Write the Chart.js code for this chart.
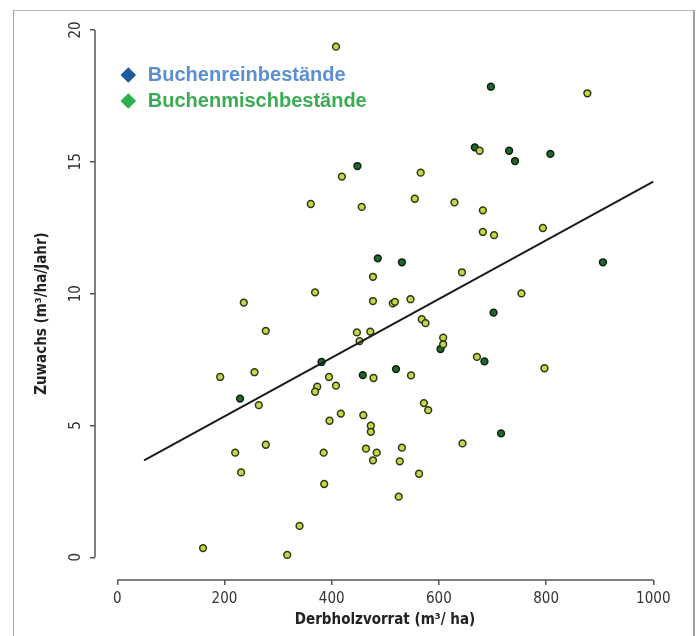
<!DOCTYPE html>
<html><head><meta charset="utf-8">
<script src="https://cdn.jsdelivr.net/npm/chart.js@4.4.1/dist/chart.umd.min.js"></script>
<style>
html,body{margin:0;padding:0;background:#fff;}
#wrap{position:relative;width:697px;height:636px;overflow:hidden;}
#frame{position:absolute;left:13px;top:10px;width:679px;height:640px;border-left:1px solid #a8a8a8;border-top:1px solid #b8b8b8;border-right:2px solid #a0a0a0;}
canvas{position:absolute;left:0;top:0;}
</style></head><body>
<div id="wrap"><div id="frame"></div><canvas id="c" width="697" height="636"></canvas></div>
<script>
// Data (Derbholzvorrat m³/ha, Zuwachs m³/ha/Jahr)
const reinX = [697, 667, 731, 742, 808, 448, 486, 531, 702, 603, 685, 520, 458, 716, 906, 381, 229];
const reinY = [17.85, 15.55, 15.42, 15.03, 15.30, 14.84, 11.34, 11.19, 9.28, 7.90, 7.43, 7.14, 6.91, 4.70, 11.19, 7.41, 6.02];
const mischX = [408, 877, 676, 419, 566, 555, 629, 456, 361, 682, 682, 703, 794, 477, 643, 754, 477, 514, 518, 547,
  568, 575, 472, 608, 608, 671, 797, 478, 548, 572, 580, 459, 473, 473, 464, 484, 531, 477, 527, 644,
  563, 525, 369, 236, 277, 447, 452, 192, 256, 395, 373, 369, 408, 264, 417, 396, 277, 220, 385, 231,
  386, 340, 160, 317];
const mischY = [19.37, 17.60, 15.42, 14.44, 14.59, 13.60, 13.46, 13.29, 13.40, 13.16, 12.34, 12.22, 12.49, 10.64, 10.81, 10.01, 9.72, 9.63, 9.69, 9.79,
  9.03, 8.88, 8.56, 8.33, 8.08, 7.60, 7.17, 6.80, 6.90, 5.85, 5.58, 5.39, 4.99, 4.76, 4.12, 3.97, 4.16, 3.68, 3.64, 4.32,
  3.17, 2.30, 10.05, 9.66, 8.59, 8.53, 8.20, 6.84, 7.02, 6.84, 6.47, 6.28, 6.51, 5.77, 5.45, 5.18, 4.27, 3.97, 3.97, 3.22,
  2.78, 1.19, 0.35, 0.09];
const lineX = [50, 1000];
const lineY = [3.68, 14.25];
const xTicks = [0, 200, 400, 600, 800, 1000];
const yTicks = [0, 5, 10, 15, 20];
const legendNames = ['Buchenreinbestände', 'Buchenmischbestände'];
const xTitle = 'Derbholzvorrat (m³/ ha)';
const yTitle = 'Zuwachs (m³/ha/Jahr)\u2003\u2003';

const legendMarker = ['#1f5a9a', '#2fb04e'];
const legendText = ['#5a8fd2', '#3aad52'];
const NARROW = "'DejaVu Sans Condensed','Liberation Sans Narrow',sans-serif";

const toPts = (xs, ys) => xs.map((v, i) => ({x: v, y: ys[i]}));

const axisLines = {
  id: 'axisLines',
  beforeDatasetsDraw(chart) {
    const {ctx, chartArea, scales: {x, y}} = chart;
    ctx.save();
    ctx.strokeStyle = '#555';
    ctx.lineWidth = 1.5;
    ctx.beginPath();
    ctx.moveTo(x.getPixelForValue(xTicks[0]), chartArea.bottom);
    ctx.lineTo(x.getPixelForValue(xTicks[xTicks.length - 1]), chartArea.bottom);
    ctx.moveTo(chartArea.left, y.getPixelForValue(yTicks[0]));
    ctx.lineTo(chartArea.left, y.getPixelForValue(yTicks[yTicks.length - 1]));
    ctx.stroke();
    ctx.restore();
  }
};
const legendShift = {
  id: 'legendShift',
  afterLayout(chart) {
    const l = chart.legend;
    if (l) { l.left += 17.8; l.top += 59; }
  }
};

new Chart(document.getElementById('c'), {
  type: 'scatter',
  data: {
    datasets: [
      {
        label: 'Regression', data: toPts(lineX, lineY), showLine: true,
        borderColor: '#1c1c1c', borderWidth: 2, pointRadius: 0, pointHoverRadius: 0, order: 0
      },
      {
        label: legendNames[1], data: toPts(mischX, mischY),
        pointRadius: 3.4, pointHoverRadius: 3.4, pointBackgroundColor: '#c8d44a',
        pointBorderColor: '#2a3a14', pointBorderWidth: 1.5, order: 1
      },
      {
        label: legendNames[0], data: toPts(reinX, reinY),
        pointRadius: 3.4, pointHoverRadius: 3.4, pointBackgroundColor: '#1e6a2c',
        pointBorderColor: '#0e200e', pointBorderWidth: 1.5, order: 2
      }
    ]
  },
  options: {
    responsive: false,
    animation: false,
    devicePixelRatio: 1,
    layout: {padding: {left: 0, top: 20, right: 22, bottom: 0}},
    plugins: {
      tooltip: {enabled: false},
      legend: {
        position: 'chartArea',
        align: 'start',
        labels: {
          usePointStyle: true, boxWidth: 19, boxHeight: 11, padding: 6,
          font: {family: "'Liberation Sans',Arial,sans-serif", size: 20, weight: 'bold'},
          generateLabels: () => legendNames.map((t, i) => ({
            text: t, fillStyle: legendMarker[i], strokeStyle: legendMarker[i], lineWidth: 0,
            pointStyle: 'rectRot', fontColor: legendText[i], hidden: false, datasetIndex: i
          }))
        }
      }
    },
    scales: {
      x: {
        type: 'linear', min: -41.6, max: 1040.5,
        afterBuildTicks: s => { s.ticks = xTicks.map(v => ({value: v})); },
        afterFit: s => { s.height = 56; },
        border: {display: false},
        grid: {display: true, drawOnChartArea: false, drawTicks: true, tickLength: 5, color: '#555', lineWidth: 1.5},
        ticks: {font: {family: NARROW, size: 15}, color: '#333', padding: 5, maxRotation: 0, autoSkip: false, callback: v => String(v)},
        title: {display: true, text: xTitle, font: {family: NARROW, size: 15, weight: 'bold'}, color: '#222', padding: {top: 0, bottom: 7}}
      },
      y: {
        type: 'linear', min: -0.861, max: 20.38,
        afterBuildTicks: s => { s.ticks = yTicks.map(v => ({value: v})); },
        afterFit: s => { s.width = 95; },
        border: {display: false},
        grid: {display: true, drawOnChartArea: false, drawTicks: true, tickLength: 5, color: '#555', lineWidth: 1.5},
        ticks: {font: {family: NARROW, size: 15}, color: '#333', padding: 5, minRotation: 90, maxRotation: 90, crossAlign: 'center', autoSkip: false, callback: v => String(v)},
        title: {display: true, text: yTitle, font: {family: NARROW, size: 15, weight: 'bold'}, color: '#222', padding: {top: 33, bottom: 0}}
      }
    }
  },
  plugins: [axisLines, legendShift]
});
</script>
</body></html>
